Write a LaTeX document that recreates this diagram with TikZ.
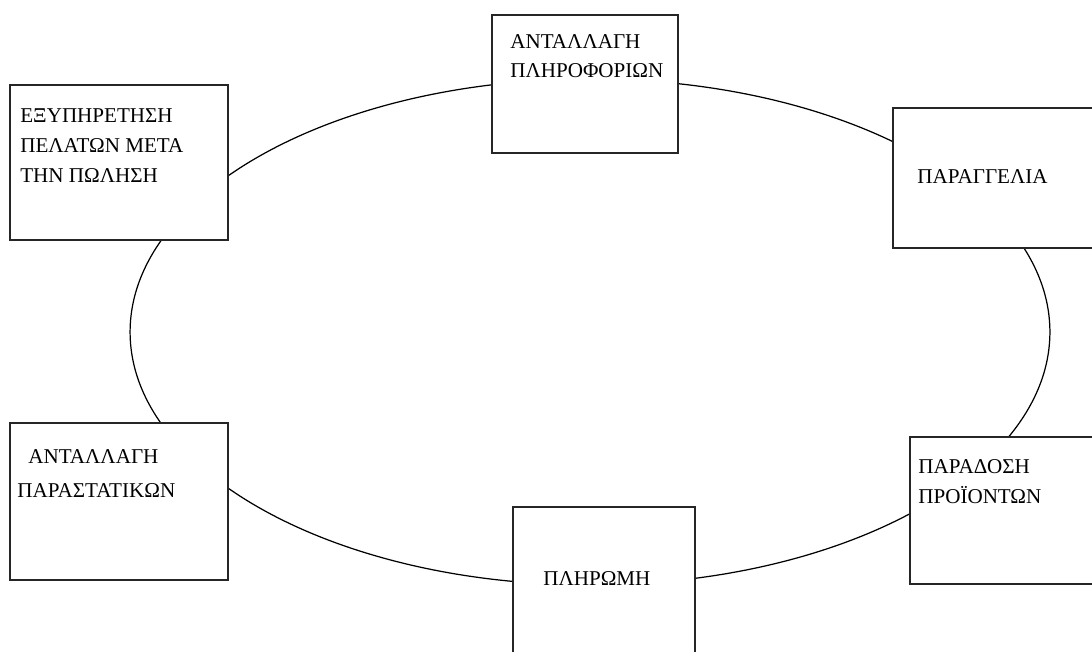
\documentclass[tikz,border=0pt]{standalone}
\usepackage{fontspec}
\setmainfont{Liberation Serif}
\usetikzlibrary{positioning}
\tikzstyle{stage}=[rectangle,draw=black!85,line width=1.2pt,fill=white,inner sep=0pt]
\tikzstyle{stagetext}=[anchor=base west,inner sep=0pt,align=left,font=\fontsize{12}{17}\selectfont]
\tikzstyle{cycle}=[draw=black,line width=0.7pt]

\begin{document}
\begin{tikzpicture}[x=0.02cm,y=-0.02cm]
  \useasboundingbox (0,0) rectangle (1092,652);
  \clip (0,0) rectangle (1092,652);

  % the cycle behind the boxes
  \coordinate (C) at (590,332);
  \path[cycle] (C) ellipse [x radius=9.2cm, y radius=5.06cm];

  \node[stage,minimum width=4.36cm,minimum height=3.1cm]  (S) at (119,162.5) {};
  \node[stage,minimum width=3.72cm,minimum height=2.76cm] (I) at (585,84)    {};
  \node[stage,minimum width=4.14cm,minimum height=2.8cm]  (O) at (996.5,178) {};
  \node[stage,minimum width=3.8cm,minimum height=2.94cm]  (D) at (1005,510.5) {};
  \node[stage,minimum width=3.64cm,minimum height=3.16cm] (P) at (604,586)   {};
  \node[stage,minimum width=4.36cm,minimum height=3.14cm] (T) at (119,501.5) {};

  % base of a text node = its last line
  \node[stagetext] (St) at (20,182)  {ΕΞΥΠΗΡΕΤΗΣΗ\\ΠΕΛΑΤΩΝ ΜΕΤΑ\\ΤΗΝ ΠΩΛΗΣΗ};
  \node[stagetext] (It) at (510,78)  {ΑΝΤΑΛΛΑΓΗ\\ΠΛΗΡΟΦΟΡΙΩΝ};
  \node[stagetext] (Ot) at (917,183) {ΠΑΡΑΓΓΕΛΙΑ};
  \node[stagetext] (Dt) at (918,503) {ΠΑΡΑΔΟΣΗ\\ΠΡΟΪΟΝΤΩΝ};
  \node[stagetext] (Pt) at (543,585) {ΠΛΗΡΩΜΗ};
  \node[stagetext] (Tt1) at (28,463) {ΑΝΤΑΛΛΑΓΗ};
  \node[stagetext] (Tt2) at (17,497) {ΠΑΡΑΣΤΑΤΙΚΩΝ};
\end{tikzpicture}
\end{document}
